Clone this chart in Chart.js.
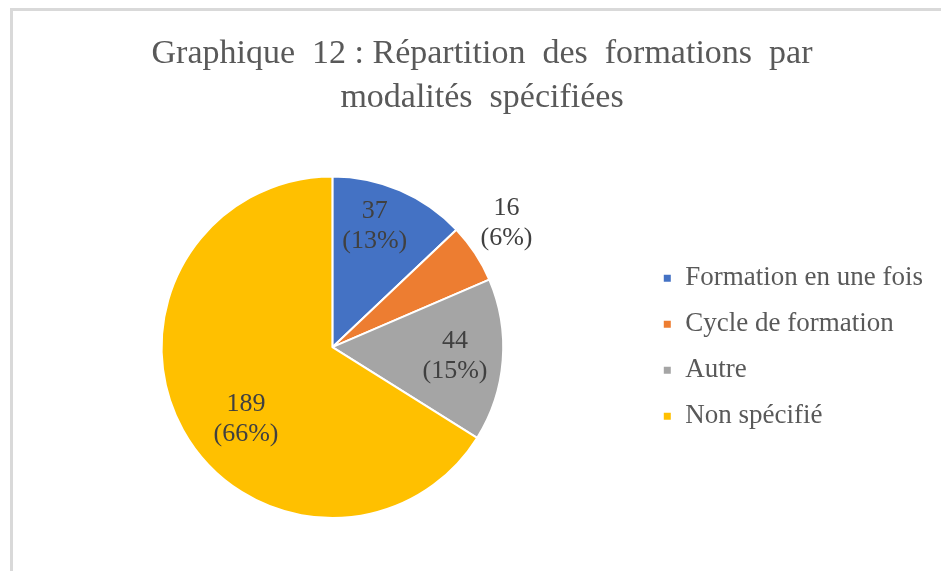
<!DOCTYPE html>
<html>
<head>
<meta charset="utf-8">
<script src="https://cdn.jsdelivr.net/npm/chart.js@4"></script>
<style>
    html, body { margin: 0; padding: 0; background: #ffffff; overflow: hidden; }
    #wrap { position: relative; width: 941px; height: 571px; }
    #frame {
        position: absolute; left: 10px; top: 8px; width: 1000px; height: 700px;
        border-top: 3px solid #d9d9d9; border-left: 3px solid #d9d9d9;
        pointer-events: none;
    }
    canvas { position: absolute; left: 0; top: 0; }
</style>
</head>
<body>
<div id="wrap">
    <canvas id="pieChart" width="941" height="571"></canvas>
    <div id="frame"></div>
</div>
<script>
const categories = ["Formation en une fois", "Cycle de formation", "Autre", "Non spécifié"];
const counts = [37, 16, 44, 189];
const sliceColors = ['#4472C4', '#ED7D31', '#A5A5A5', '#FFC000'];
const titleLines = ["Graphique  12 : Répartition  des  formations  par", "modalités  spécifiées"];

// where each data label sits: fraction of radius, angle nudge in degrees
const labelRadius = [0.75, 1.25, 0.72, 0.66];
const labelShift = [-4, -2, 0, -11];

const serif = "'Liberation Serif', 'Times New Roman', serif";

const pieLabels = {
    id: 'pieLabels',
    afterDatasetsDraw(chart) {
        const ctx = chart.ctx;
        const meta = chart.getDatasetMeta(0);
        const total = counts.reduce((a, b) => a + b, 0);
        ctx.save();
        ctx.font = "26px " + serif;
        ctx.fillStyle = '#404040';
        ctx.textAlign = 'center';
        ctx.textBaseline = 'middle';
        meta.data.forEach((arc, i) => {
            const p = arc.getProps(['x', 'y', 'startAngle', 'endAngle', 'outerRadius'], true);
            const mid = (p.startAngle + p.endAngle) / 2 + labelShift[i] * Math.PI / 180;
            const r = p.outerRadius * labelRadius[i];
            const cx = p.x + Math.cos(mid) * r;
            const cy = p.y + Math.sin(mid) * r;
            const pct = Math.round(counts[i] / total * 100);
            ctx.fillText(String(counts[i]), cx, cy - 15);
            ctx.fillText(`(${pct}%)`, cx, cy + 15);
        });
        ctx.restore();
    }
};

// nudge title right, and keep the legend beside the pie so it centres on it
const tweakLayout = {
    id: 'tweakLayout',
    afterLayout(chart) {
        if (chart.titleBlock) {
            chart.titleBlock.left += 5;
            chart.titleBlock.right += 5;
        }
        if (chart.legend) {
            chart.legend.top = chart.chartArea.top;
            chart.legend.bottom = chart.chartArea.bottom;
            chart.legend.height = chart.chartArea.bottom - chart.chartArea.top;
        }
    }
};

new Chart(document.getElementById('pieChart').getContext('2d'), {
    type: 'pie',
    data: {
        labels: categories,
        datasets: [{
            data: counts,
            backgroundColor: sliceColors,
            borderColor: '#ffffff',
            borderWidth: 2
        }]
    },
    options: {
        responsive: false,
        animation: false,
        layout: { padding: { left: 21, right: 8, top: 0, bottom: 52 } },
        plugins: {
            title: {
                display: true,
                text: titleLines,
                color: '#595959',
                font: { family: serif, size: 34, weight: 'normal', lineHeight: 1.3 },
                padding: { top: 32, bottom: 55 }
            },
            legend: {
                position: 'right',
                labels: {
                    color: '#595959',
                    font: { family: serif, size: 27 },
                    boxWidth: 9,
                    boxHeight: 9,
                    padding: 19
                }
            },
            tooltip: { enabled: false }
        }
    },
    plugins: [pieLabels, tweakLayout]
});
</script>
</body>
</html>
